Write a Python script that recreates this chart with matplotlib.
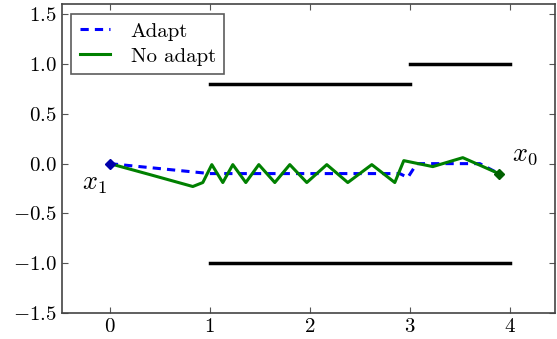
import matplotlib
matplotlib.use("Agg")
import matplotlib.pyplot as plt

plt.rcParams['font.family'] = 'serif'
plt.rcParams['font.serif'] = ['cmr10']
plt.rcParams['mathtext.fontset'] = 'cm'
plt.rcParams['axes.formatter.use_mathtext'] = True
plt.rcParams['font.size'] = 15

# trajectories
adapt_x = [0.0, 1.0, 2.0, 2.9, 2.98, 3.07, 3.4, 3.7, 3.89]
adapt_y = [0.0, -0.10, -0.10, -0.10, -0.14, 0.0, 0.0, 0.0, -0.10]

noadapt_x = [0.0, 0.4, 0.83, 0.93, 1.02, 1.13, 1.23, 1.36, 1.49, 1.65, 1.80, 1.97,
             2.17, 2.38, 2.62, 2.85, 2.94, 3.23, 3.53, 3.89]
noadapt_y = [0.0, -0.11, -0.23, -0.19, -0.01, -0.19, -0.01, -0.19, -0.01, -0.19, -0.01, -0.19,
             -0.01, -0.19, -0.01, -0.19, 0.03, -0.03, 0.06, -0.10]

# constraint segments
bounds = [((1, 3), (0.8, 0.8)), ((3, 4), (1.0, 1.0)), ((1, 4), (-1.0, -1.0))]

fig = plt.figure(figsize=(5.57, 3.39), dpi=100)
ax = fig.add_axes([0.111, 0.077, 0.885, 0.91])

for bx, by in bounds:
    ax.plot(bx, by, color='k', lw=2.5)

ax.plot(adapt_x, adapt_y, color='#0000ff', lw=2.2, dashes=(2.7, 2.0), label='Adapt')
ax.plot(noadapt_x, noadapt_y, color='#008000', lw=2.2, label='No adapt')
ax.plot(adapt_x[0], adapt_y[0], marker='D', color='#0000aa', ms=5)
ax.plot(noadapt_x[-1], noadapt_y[-1], marker='D', color='#006000', ms=5)

ax.text(-0.15, -0.21, r'$x_1$', fontsize=19, ha='center', va='center')
ax.text(4.15, 0.09, r'$x_0$', fontsize=19, ha='center', va='center')

ax.set_xlim(-0.48, 4.45)
ax.set_ylim(-1.5, 1.6)
ax.set_xticks([0, 1, 2, 3, 4])
ax.set_yticks([-1.5, -1.0, -0.5, 0.0, 0.5, 1.0, 1.5])
ax.tick_params(direction='in', top=True, right=True, length=4, color='#555555')
for s in ax.spines.values():
    s.set_color('#444444')
    s.set_linewidth(1.2)

leg = ax.legend(loc='upper left', fancybox=False, edgecolor='#333333', fontsize=15,
                handlelength=1.45, handletextpad=1.0, borderaxespad=0.45,
                borderpad=0.4, labelspacing=0.3)
leg.get_frame().set_linewidth(1.2)

fig.savefig('out.png', dpi=100)
